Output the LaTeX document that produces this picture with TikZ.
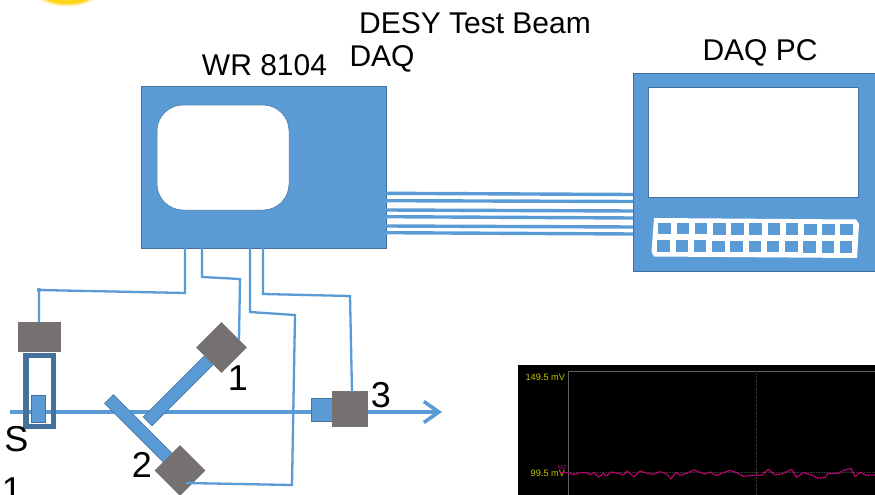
\documentclass[tikz,border=0pt]{standalone}
\usepackage{fontspec}
\setmainfont{Liberation Sans}
\usetikzlibrary{arrows.meta}
\definecolor{bluefill}{HTML}{5B9BD5}
\definecolor{blueedge}{HTML}{41719C}
\definecolor{grayblock}{HTML}{767171}
\definecolor{scopeyellow}{HTML}{C4C400}
\definecolor{scopetrace}{HTML}{C00070}
\definecolor{sunyellow}{HTML}{FFD41A}
\tikzset{
  blk/.style={inner sep=0pt,outer sep=0pt,shape=rectangle},
  bluebox/.style={blk,fill=bluefill,draw=blueedge,line width=0.5pt},
  detector/.style={blk,fill=grayblock},
  whitepanel/.style={blk,fill=white,draw=blueedge,line width=0.5pt},
  keykey/.style={blk,fill=bluefill,minimum width=12.5pt,minimum height=11.5pt},
  wire/.style={draw=bluefill,line width=2.3pt,line join=miter},
  bus/.style={draw=bluefill,line width=3.4pt},
  beam/.style={draw=bluefill,line width=4.2pt,-{Straight Barb[length=15pt,width=21pt,line width=3.6pt]}},
  title/.style={blk,font=\fontsize{30}{33}\selectfont,text=black,anchor=center},
  digit/.style={blk,font=\fontsize{36}{39}\selectfont,text=black,anchor=center},
  scopetxt/.style={blk,font=\fontsize{9.2}{10}\selectfont,text=scopeyellow},
}
\begin{document}
\begin{tikzpicture}[x=1pt,y=-1pt]
\useasboundingbox (0,0) rectangle (875,495);
\clip (0,0) rectangle (875,495);
\fill[white] (0,0) rectangle (875,495);
% sun
\fill[sunyellow!35] (67,-14) ellipse [x radius=36,y radius=20.5];
\fill[sunyellow] (67,-14) ellipse [x radius=33,y radius=18.5];

% titles
\node[title] (tdesy) at (475,23) {DESY Test Beam};
\node[title] (twr) at (264.5,65) {WR 8104};
\node[title] (tdaq) at (382,59) {DAQ};
\node[title] (tpc) at (760,53) {DAQ PC};

% scope
\fill[black] (518,365) rectangle (875,495);
\draw[black!62!white,line width=0.9pt] (875,371) -- (568.5,371) -- (568.5,495);
\draw[black!78!white,line width=0.6pt,densely dotted] (756,371) -- (756,495);
\draw[black!78!white,line width=0.6pt,densely dotted] (568,472) -- (875,472);
\node[scopetxt,anchor=east] (s1) at (565,377) {149.5 mV};
\node[scopetxt,anchor=east] (s2) at (565,473.5) {99.5 mV};
\node[blk,font=\fontsize{6}{7}\selectfont,text=scopetrace] (s3) at (562,467) {M2};
\begin{scope}[shift={(510,360)},x=0.3333pt,y=-0.3333pt]
\draw[scopetrace,line width=1.1pt,line join=round] (150,338) -- (175,338) -- (190,344) -- (205,339) -- (228,338) -- (240,344) -- (252,338) -- (267,352) -- (280,340) -- (290,348) -- (303,336) -- (325,340) -- (340,345) -- (352,333) -- (372,351) -- (390,333) -- (412,340) -- (430,343) -- (450,335) -- (470,342) -- (483,357) -- (498,338) -- (510,346) -- (530,340) -- (552,330) -- (568,336) -- (585,342) -- (600,336) -- (618,347) -- (640,338) -- (660,331) -- (680,338) -- (700,349) -- (740,345) -- (755,346) -- (775,328) -- (795,345) -- (815,342) -- (845,328) -- (860,352) -- (880,338) -- (905,345) -- (925,355) -- (945,352) -- (955,340) -- (985,340) -- (1003,330) -- (1023,326) -- (1035,350) -- (1052,336) -- (1068,346) -- (1095,345);
\end{scope}

% WR 8104 scope box
\node[bluebox,minimum width=245pt,minimum height=162pt] (wr) at (263.5,167) {};
\node[whitepanel,rounded corners=26pt,minimum width=132pt,minimum height=105pt] (wrscreen) at (223,157.5) {};

% DAQ PC
\node[bluebox,minimum width=250pt,minimum height=198pt] (pc) at (758,172) {};
\node[whitepanel,minimum width=210pt,minimum height=110pt] (pcscreen) at (753,142) {};
\fill[white] (654,218) -- (856,219.5) -- (859,224) -- (857,258) -- (654,256.5) -- (651.5,252) -- cycle;
\foreach \i in {0,...,10}{
  \node[keykey] (ka\i) at ({664.7+18.2*\i},{228.5+0.1*\i}) {};
  \node[keykey] (kb\i) at ({663.5+18.25*\i},{246+0.1*\i}) {};
}

% bus
\foreach \n/\l/\r in {a/193.3/194.5,b/200.7/201.5,c/210/211,d/216.7/218,e/226/227,f/232.7/234}{
  \coordinate (bl\n) at (386,\l);
  \coordinate (br\n) at (633,\r);
  \draw[bus] (bl\n) -- (br\n);
}

% beam
\coordinate (beamstart) at (10,412);
\coordinate (beamend) at (442,412);
\draw[beam] (beamstart) -- (beamend);

% left tube
\node[blk,draw=blueedge,line width=5.5pt,minimum width=27.5pt,minimum height=71pt] (tube) at (39.5,391) {};
\node[bluebox,minimum width=14pt,minimum height=27pt] (src) at (38,408.5) {};
\node[detector,minimum width=43pt,minimum height=30pt] (d0) at (39.5,337) {};

% bars and detectors
\node[bluebox,rotate=-45,minimum width=85pt,minimum height=12.5pt] (bar2) at (139,429) {};
\node[bluebox,rotate=45,minimum width=86pt,minimum height=12.5pt] (bar1) at (178,391) {};
\node[detector,rotate=45,minimum width=36pt,minimum height=36pt] (d1) at (221.5,347.5) {};
\node[detector,rotate=45,minimum width=36pt,minimum height=36pt] (d2) at (180,470.5) {};
\node[bluebox,minimum width=21pt,minimum height=23pt] (blk3) at (321.5,409.5) {};
\node[detector,minimum width=36pt,minimum height=36pt] (d3) at (350,409) {};

% wires
\coordinate (w1a) at (185,248); \coordinate (w1b) at (185,293); \coordinate (w1c) at (39,290);
\draw[wire] (w1a) -- (w1b) -- (w1c) -- (d0.north -| w1c);
\fill[bluefill] (w1c) circle (2.2pt);
\coordinate (w2a) at (202,248); \coordinate (w2b) at (202,277); \coordinate (w2c) at (240,279); \coordinate (w2d) at (239,340);
\draw[wire] (w2a) -- (w2b) -- (w2c) -- (w2d);
\coordinate (w3a) at (250,248); \coordinate (w3b) at (250,312); \coordinate (w3c) at (295,315); \coordinate (w3d) at (292,485); \coordinate (w3e) at (186,483);
\draw[wire] (w3a) -- (w3b) -- (w3c) -- (w3d) -- (w3e);
\coordinate (w4a) at (263,248); \coordinate (w4b) at (263,294); \coordinate (w4c) at (350,296); \coordinate (w4d) at (352,392);
\draw[wire] (w4a) -- (w4b) -- (w4c) -- (w4d);

% labels
\node[digit] (l1) at (238,378) {1};
\node[digit] (l2) at (142,465) {2};
\node[digit] (l3) at (381,395.5) {3};
\node[digit] (lS) at (16.5,439) {S};
\node[digit] (lb) at (12,490.5) {1};
\end{tikzpicture}
\end{document}
